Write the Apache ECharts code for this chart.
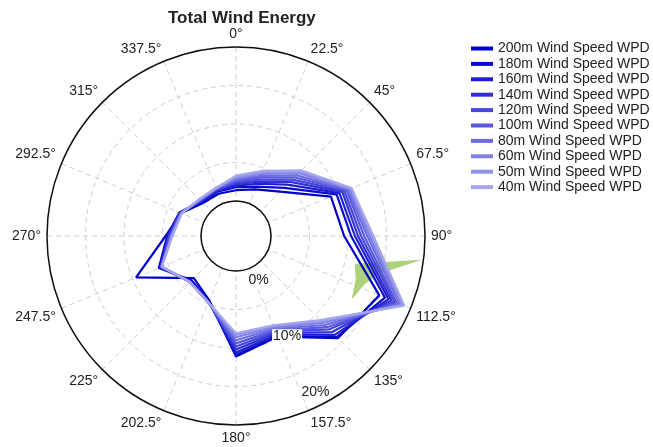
<!DOCTYPE html>
<html>
<head>
<meta charset="utf-8">
<script src="https://cdn.jsdelivr.net/npm/echarts@6/dist/echarts.min.js"></script>
<style>
html,body{margin:0;padding:0;background:#fff;}
#chart{width:653px;height:447px;}
</style>
</head>
<body>
<div id="chart"></div>
<script>
// Directions (degrees, clockwise from north)
var directions = [0, 22.5, 45, 67.5, 90, 112.5, 135, 157.5, 180, 202.5, 225, 247.5, 270, 292.5, 315, 337.5];
// Wind power density share (%) per direction, per height
var wpd200 = [1.4, 2.0, 3.6, 8.8, 9.5, 15.6, 14.2, 9.6, 11.1, 4.5, 3.2, 9.5, 4.6, 3.2, 1.5, 1.4];
var wpd180 = [1.8, 2.4, 4.3, 9.6, 10.4, 16.4, 14.0, 9.5, 10.9, 4.6, 3.6, 6.3, 4.4, 3.4, 1.7, 1.7];
var wpd160 = [2.0, 2.8, 4.9, 10.0, 10.9, 16.9, 13.6, 9.3, 10.6, 4.7, 3.8, 6.1, 4.3, 3.4, 1.8, 1.8];
var wpd140 = [2.2, 3.1, 5.4, 10.4, 11.3, 17.3, 13.1, 9.1, 10.2, 4.7, 3.9, 6.0, 4.2, 3.3, 1.9, 1.9];
var wpd120 = [2.4, 3.4, 5.8, 10.7, 11.7, 17.7, 12.6, 8.9, 9.8, 4.8, 3.9, 6.0, 4.1, 3.3, 2.0, 2.0];
var wpd100 = [2.6, 3.7, 6.2, 11.0, 12.1, 18.0, 12.2, 8.7, 9.4, 4.8, 3.9, 5.9, 4.0, 3.2, 2.0, 2.1];
var wpd80  = [2.8, 3.9, 6.6, 11.2, 12.5, 18.4, 11.8, 8.5, 9.0, 4.8, 3.9, 5.9, 3.9, 3.2, 2.1, 2.1];
var wpd60  = [3.0, 4.2, 7.0, 11.4, 12.8, 18.7, 11.4, 8.3, 8.6, 4.8, 3.9, 5.9, 3.8, 3.1, 2.1, 2.2];
var wpd50  = [3.1, 4.4, 7.2, 11.6, 13.1, 18.9, 11.1, 8.1, 8.3, 4.8, 3.9, 5.9, 3.8, 3.1, 2.2, 2.2];
var wpd40  = [3.3, 4.6, 7.5, 11.7, 13.3, 19.1, 10.9, 8.0, 8.1, 4.8, 3.9, 5.9, 3.7, 3.1, 2.2, 2.2];

var seriesNames = ['200m Wind Speed WPD','180m Wind Speed WPD','160m Wind Speed WPD','140m Wind Speed WPD','120m Wind Speed WPD','100m Wind Speed WPD','80m Wind Speed WPD','60m Wind Speed WPD','50m Wind Speed WPD','40m Wind Speed WPD'];
var seriesValues = [wpd200, wpd180, wpd160, wpd140, wpd120, wpd100, wpd80, wpd60, wpd50, wpd40];
var seriesColors = ['#0000c8','#0a0acc','#1e1ed0','#3030d4','#4646da','#5858de','#6c6ce2','#8080e6','#9292ea','#a6a6ee'];

// Green vector shape: [radius %, angle deg]
var greenR = [11.3, 19.8, 14.6, 13.3, 12.6, 12.0];
var greenA = [103.2, 97.3, 104.9, 110.4, 118.9, 110.1];

// Radial tick labels
var radiusTicks = [0, 10, 20];

var FONT = 'Liberation Sans';
var chart = echarts.init(document.getElementById('chart'));

var series = seriesNames.map(function (name, i) {
  var pts = directions.map(function (d, k) { return [seriesValues[i][k], d]; });
  pts.push([seriesValues[i][0], directions[0]]);
  return {
    name: name,
    type: 'line',
    coordinateSystem: 'polar',
    polarIndex: 0,
    data: pts,
    showSymbol: false,
    symbol: 'none',
    z: 3,
    lineStyle: { color: seriesColors[i], width: 2.2 },
    itemStyle: { color: seriesColors[i] }
  };
});

series.unshift({
  name: 'vector',
  type: 'custom',
  coordinateSystem: 'polar',
  polarIndex: 0,
  z: 2,
  silent: true,
  data: greenR.map(function (r, k) { return [r, greenA[k]]; }),
  renderItem: function (params, api) {
    if (params.dataIndex !== 0) return null;
    var pts = greenR.map(function (r, k) { return api.coord([r, greenA[k]]); });
    return { type: 'polygon', shape: { points: pts }, style: { fill: '#add27a', stroke: null } };
  }
});

chart.setOption({
  animation: false,
  backgroundColor: '#fff',
  title: {
    text: 'Total Wind Energy',
    left: 163, top: 5,
    textStyle: { fontFamily: FONT, fontSize: 17, fontWeight: 'bold', color: '#222' }
  },
  legend: {
    data: seriesNames,
    orient: 'vertical',
    left: 466, top: 36,
    icon: 'rect',
    itemWidth: 22, itemHeight: 4,
    itemGap: 0.4,
    textStyle: { fontFamily: FONT, fontSize: 14, color: '#222', lineHeight: 15 }
  },
  polar: [
    { center: [236, 236], radius: [35, 189] },
    { center: [236, 236], radius: [50, 175] }
  ],
  angleAxis: [
    {
      polarIndex: 0,
      type: 'value', min: 0, max: 360, interval: 22.5,
      startAngle: 90, clockwise: true,
      axisLine: { show: true, lineStyle: { color: '#111', width: 1.5 } },
      axisTick: { show: false },
      axisLabel: {
        margin: 6, fontFamily: FONT, fontSize: 14, color: '#222',
        formatter: function (v) { return v + '°'; }
      },
      splitLine: { show: true, lineStyle: { color: '#cfcfcf', type: [5, 4], width: 1 } }
    },
    {
      polarIndex: 1,
      type: 'value', min: 0, max: 360,
      startAngle: -63, clockwise: true,
      show: false
    }
  ],
  radiusAxis: [
    {
      polarIndex: 0,
      type: 'value', min: 0, max: 20, interval: 5,
      axisLine: { show: false }, axisTick: { show: false }, axisLabel: { show: false },
      splitLine: { show: true, lineStyle: { color: '#cfcfcf', type: [5, 4], width: 1 } }
    },
    {
      polarIndex: 1,
      type: 'value', min: 0, max: 20, interval: 10,
      z: 10,
      axisLine: { show: false }, axisTick: { show: false }, splitLine: { show: false },
      axisLabel: {
        show: true, margin: 0, align: 'center', verticalAlign: 'middle',
        fontFamily: FONT, fontSize: 14, color: '#222',
        backgroundColor: '#fff', padding: [0, 1],
        formatter: function (v) { return radiusTicks.indexOf(v) >= 0 ? v + '%' : ''; }
      }
    }
  ],
  series: series
});
</script>
</body>
</html>
